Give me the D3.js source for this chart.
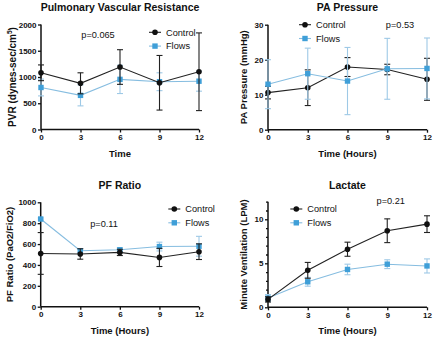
<!DOCTYPE html>
<html>
<head>
<meta charset="utf-8">
<script src="https://cdn.jsdelivr.net/npm/d3@7"></script>
<style>
  html, body { margin: 0; padding: 0; background: #fff; }
  svg { display: block; font-family: Arial, "Liberation Sans", sans-serif; }
</style>
</head>
<body>
<svg id="chart" width="440" height="340"></svg>
<script>
// Time points (hours)
const hours = [0, 3, 6, 9, 12];

// Pulmonary vascular resistance (dynes-sec/cm^5): mean and SD
const pvrControl   = [1080, 880, 1190, 890, 1100];
const pvrControlSd = [150, 200, 330, 520, 740];
const pvrFlows     = [800, 650, 955, 910, 920];
const pvrFlowsSd   = [160, 200, 270, 170, 190];

// Pulmonary artery pressure (mmHg)
const paControl    = [10.6, 12.0, 17.9, 17.2, 14.4];
const paControlSd  = [1.8, 5.1, 2.7, 1.5, 6.0];
const paFlows      = [13.0, 16.0, 13.9, 17.4, 17.5];
const paFlowsSd    = [7.0, 7.3, 9.6, 8.7, 8.7];

// PaO2/FiO2 ratio
const pfControl    = [510, 505, 520, 472, 527];
const pfControlSd  = [200, 50, 30, 87, 75];
const pfFlows      = [840, 536, 545, 576, 579];
const pfFlowsSd    = [10, 20, 20, 42, 95];

// Minute ventilation (LPM)
const mvControl    = [0.9, 4.2, 6.6, 8.7, 9.45];
const mvControlSd  = [0.3, 0.9, 0.8, 1.35, 0.95];
const mvFlows      = [1.05, 2.9, 4.3, 4.9, 4.7];
const mvFlowsSd    = [0.4, 0.5, 0.6, 0.5, 0.8];

// Tick values per panel
const pvrTicks = [0, 500, 1000, 1500, 2000];
const paTicks  = [0, 10, 20, 30];
const pfTicks  = [0, 200, 400, 600, 800, 1000];
const mvTicks  = [0, 5, 10];
const mvMinor  = d3.range(0, 13, 1);

const seriesNames = ["Control", "Flows"];
const COL_CTRL = "#111111";
const COL_FLOW = "#3f9fd8";
const COL_FLOW_LINE = "#86bde0";
const COL_FLOW_ERR = "#9ec9e6";

const svg = d3.select("#chart");

function panel(cfg) {
  const g = svg.append("g");
  const x = d3.scaleLinear().domain([0, 12]).range([cfg.x0, cfg.x1]);
  const y = d3.scaleLinear().domain([0, cfg.ymax]).range([cfg.y0, cfg.y1]);

  // title
  g.append("text").attr("x", (cfg.x0 + cfg.x1) / 2 + cfg.titleDx).attr("y", cfg.titleY)
    .attr("text-anchor", "middle").attr("font-size", 10.5).attr("font-weight", "bold")
    .attr("fill", "#111").text(cfg.title);

  // axes
  const ya = g.append("g").attr("transform", `translate(${cfg.x0},0)`)
    .call(d3.axisLeft(y).tickValues(cfg.yticks).tickSize(3).tickPadding(1.5).tickFormat(d3.format("d")));
  if (cfg.minor) {
    g.append("g").attr("transform", `translate(${cfg.x0},0)`)
      .call(d3.axisLeft(y).tickValues(cfg.minor.filter(v => !cfg.yticks.includes(v))).tickSize(2).tickFormat(""))
      .call(s => s.select(".domain").remove());
  }
  const xa = g.append("g").attr("transform", `translate(0,${cfg.y0})`)
    .call(d3.axisBottom(x).tickValues(hours).tickSize(3).tickPadding(2));
  g.selectAll(".domain").attr("stroke", "#111").attr("stroke-width", 1.5);
  g.selectAll(".tick line").attr("stroke", "#111").attr("stroke-width", 1.3);
  g.selectAll(".tick text").attr("font-size", 8).attr("font-weight", "bold")
    .attr("fill", "#111").attr("font-family", "Arial, 'Liberation Sans', sans-serif");
  ya.selectAll(".domain").attr("d", `M-0,${cfg.y0}V${cfg.y1}`);
  xa.selectAll(".domain").attr("d", `M${cfg.x0},0H${cfg.x1}`);

  // axis titles
  g.append("text").attr("x", (cfg.x0 + cfg.x1) / 2).attr("y", cfg.y0 + 27)
    .attr("text-anchor", "middle").attr("font-size", 9.5).attr("font-weight", "bold")
    .attr("fill", "#111").text(cfg.xlabel);
  const yt = g.append("text")
    .attr("transform", `translate(${cfg.ylabX},${(cfg.y0 + cfg.y1) / 2}) rotate(-90)`)
    .attr("text-anchor", "middle").attr("font-size", cfg.ylabSize).attr("font-weight", "bold")
    .attr("fill", "#111");
  yt.append("tspan").text(cfg.ylabel);
  if (cfg.ysup) {
    yt.append("tspan").attr("font-size", 6.5).attr("dy", -4).text(cfg.ysup);
    yt.append("tspan").attr("dy", 4).text(")");
  }

  const series = [
    { name: seriesNames[0], m: cfg.ctrl, sd: cfg.ctrlSd, color: COL_CTRL, line: "#222", err: "#222", shape: "circle" },
    { name: seriesNames[1], m: cfg.flow, sd: cfg.flowSd, color: COL_FLOW, line: COL_FLOW_LINE, err: COL_FLOW_ERR, shape: "square" }
  ];
  const order = cfg.flowOnTop ? [0, 1] : [1, 0];
  order.forEach(i => {
    const s = series[i];
    const sg = g.append("g");
    // error bars
    hours.forEach((h, k) => {
      const hi = s.m[k] + s.sd[k], lo = Math.max(0, s.m[k] - s.sd[k]);
      sg.append("line").attr("x1", x(h)).attr("x2", x(h)).attr("y1", y(hi)).attr("y2", y(lo))
        .attr("stroke", s.err).attr("stroke-width", 1.1);
      [hi, lo].forEach(v => sg.append("line").attr("x1", x(h) - 3).attr("x2", x(h) + 3)
        .attr("y1", y(v)).attr("y2", y(v)).attr("stroke", s.err).attr("stroke-width", 1.1));
    });
    sg.append("path").datum(hours.map((h, k) => [h, s.m[k]]))
      .attr("d", d3.line().x(d => x(d[0])).y(d => y(d[1])))
      .attr("fill", "none").attr("stroke", s.line).attr("stroke-width", 1.1);
    hours.forEach((h, k) => {
      if (s.shape === "circle") {
        sg.append("circle").attr("cx", x(h)).attr("cy", y(s.m[k])).attr("r", 2.8).attr("fill", s.color);
      } else {
        sg.append("rect").attr("x", x(h) - 2.7).attr("y", y(s.m[k]) - 2.7)
          .attr("width", 5.4).attr("height", 5.4).attr("fill", s.color);
      }
    });
  });

  // legend
  series.forEach((s, i) => {
    const ly = cfg.legY + i * 13.8;
    g.append("line").attr("x1", cfg.legX - 6).attr("x2", cfg.legX + 6).attr("y1", ly).attr("y2", ly)
      .attr("stroke", s.line).attr("stroke-width", 1.1);
    if (s.shape === "circle") {
      g.append("circle").attr("cx", cfg.legX).attr("cy", ly).attr("r", 2.8).attr("fill", s.color);
    } else {
      g.append("rect").attr("x", cfg.legX - 2.7).attr("y", ly - 2.7).attr("width", 5.4).attr("height", 5.4).attr("fill", s.color);
    }
    g.append("text").attr("x", cfg.legX + 11).attr("y", ly + 3.3).attr("font-size", 9.2)
      .attr("fill", "#111").text(s.name);
  });

  // p-value
  g.append("text").attr("x", cfg.pX).attr("y", cfg.pY).attr("text-anchor", "middle")
    .attr("font-size", 9.2).attr("fill", "#111").text(cfg.p);
}

panel({
  title: "Pulmonary Vascular Resistance", titleY: 11, titleDx: 0,
  x0: 41, x1: 199, y0: 129.5, y1: 24.5, ymax: 2000, yticks: pvrTicks,
  ctrl: pvrControl, ctrlSd: pvrControlSd, flow: pvrFlows, flowSd: pvrFlowsSd,
  xlabel: "Time", ylabel: "PVR (dynes-sec/cm", ysup: "5", ylabX: 16, ylabSize: 10,
  legX: 155, legY: 32.3, p: "p=0.065", pX: 98, pY: 38
});

panel({
  title: "PA Pressure", titleY: 11, titleDx: 0,
  x0: 268, x1: 427, y0: 129.7, y1: 24.7, ymax: 30, yticks: paTicks,
  ctrl: paControl, ctrlSd: paControlSd, flow: paFlows, flowSd: paFlowsSd, flowOnTop: true,
  xlabel: "Time (Hours)", ylabel: "PA Pressure (mmHg)", ylabX: 247, ylabSize: 9.5,
  legX: 305, legY: 24.7, p: "p=0.53", pX: 400, pY: 28
});

panel({
  title: "PF Ratio", titleY: 189, titleDx: 0,
  x0: 40.7, x1: 199, y0: 306.7, y1: 202.3, ymax: 1000, yticks: pfTicks,
  ctrl: pfControl, ctrlSd: pfControlSd, flow: pfFlows, flowSd: pfFlowsSd,
  xlabel: "Time (Hours)", ylabel: "PF Ratio (PaO2/FiO2)", ylabX: 13, ylabSize: 9.5,
  legX: 174.3, legY: 209, p: "p=0.11", pX: 104, pY: 227
});

panel({
  title: "Lactate", titleY: 189, titleDx: 0,
  x0: 268, x1: 427, y0: 307.3, y1: 201.7, ymax: 12, yticks: mvTicks, minor: mvMinor,
  ctrl: mvControl, ctrlSd: mvControlSd, flow: mvFlows, flowSd: mvFlowsSd,
  xlabel: "Time (Hours)", ylabel: "Minute Ventilation (LPM)", ylabX: 247, ylabSize: 9.5,
  legX: 296.3, legY: 209, p: "p=0.21", pX: 390.7, pY: 204
});
</script>
</body>
</html>
